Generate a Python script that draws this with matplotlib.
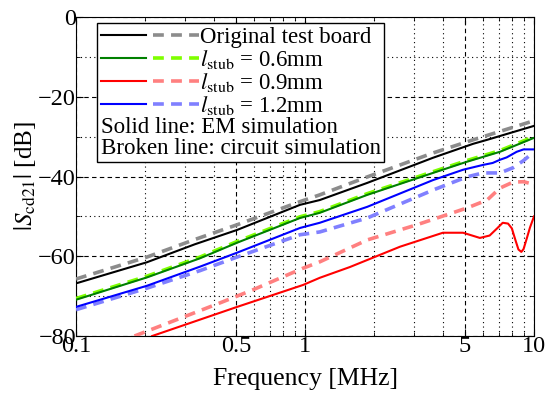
import numpy as np
import matplotlib
matplotlib.use("Agg")
import matplotlib.pyplot as plt
from matplotlib.ticker import FixedLocator, NullFormatter
from matplotlib.legend_handler import HandlerTuple

plt.rcParams['font.family'] = ['Liberation Serif', 'DejaVu Serif']
plt.rcParams['mathtext.fontset'] = 'stix'

# Frequencies [MHz] and |Scd21| [dB]
f_orig = [0.1, 0.204, 0.33, 0.505, 0.951, 1.16, 1.87, 3.62, 5.42, 6.24, 10]
em_orig = [-66.8, -61.5, -57.0, -53.4, -47.1, -45.9, -41.6, -35.3, -31.8, -30.8, -27.3]
ckt_orig = [-65.7, -60.2, -55.8, -52.1, -46.3, -44.6, -40.1, -34.1, -30.8, -29.7, -26.0]

f_06 = [0.1, 0.204, 0.348, 0.505, 0.951, 1.16, 1.87, 3.62, 5.09, 7.1, 10]
em_06 = [-70.9, -65.3, -60.5, -56.6, -50.4, -49.1, -44.6, -39.1, -36.3, -33.8, -30.3]
ckt_06 = [-70.6, -65.0, -60.2, -56.3, -50.1, -48.8, -44.3, -38.8, -36.0, -33.5, -30.0]

f_09em = [0.215, 0.505, 0.98, 1.16, 1.57, 2.6, 4.0, 4.9, 5.8, 6.4, 6.9, 7.3, 7.7, 8.0, 8.3, 8.55, 8.8, 9.0,
          9.3, 9.6, 10]
em_09 = [-80.0, -72.7, -67.2, -65.4, -62.7, -57.6, -54.1, -54.1, -55.4, -54.8, -53.0, -51.6, -51.8, -53.0,
         -56.0, -58.3, -58.9, -58.2, -55.5, -52.8, -50.0]
f_09ckt = [0.18, 0.425, 0.593, 0.97, 1.16, 1.87, 3.08, 5.09, 6.24, 7.1, 8.1, 9.0, 10]
ckt_09 = [-80.0, -71.7, -68.4, -63.1, -61.4, -55.9, -52.1, -47.9, -45.9, -42.9, -41.4, -41.3, -42.0]

f_12em = [0.1, 0.204, 0.348, 0.505, 0.951, 1.16, 1.87, 3.62, 4.9, 5.98, 6.6, 7.1, 7.6, 8.4, 9.0, 10]
em_12 = [-72.7, -67.4, -62.6, -59.1, -52.9, -51.6, -47.6, -40.9, -38.3, -37.1, -36.6, -35.8, -35.2, -33.8,
         -33.2, -33.2]
f_12ckt = [0.1, 0.204, 0.348, 0.505, 0.951, 1.16, 1.87, 3.62, 5.09, 5.98, 7.1, 8.1, 9.0, 10]
ckt_12 = [-73.4, -68.0, -63.6, -60.2, -54.6, -53.9, -50.4, -43.4, -40.1, -39.1, -39.1, -37.8, -36.0, -33.8]

fig = plt.figure(figsize=(5.48, 4.07), dpi=100)
ax = fig.add_axes([0.1387, 0.1744, 0.8358, 0.7838])

lw_s, lw_d = 1.5, 2.6
h_orig_s, = ax.plot(f_orig, em_orig, '-', color='black', lw=lw_s, zorder=4)
h_orig_d, = ax.plot(f_orig, ckt_orig, '--', color='#8c8c8c', lw=lw_d, dashes=(3, 2), zorder=3)
h06_d, = ax.plot(f_06, ckt_06, '--', color='#7fff00', lw=lw_d, dashes=(3, 2), zorder=3)
h06_s, = ax.plot(f_06, em_06, '-', color='#008000', lw=lw_s, zorder=4)
h09_s, = ax.plot(f_09em, em_09, '-', color='red', lw=lw_s, zorder=4)
h09_d, = ax.plot(f_09ckt, ckt_09, '--', color='#ff8080', lw=lw_d, dashes=(3, 2), zorder=3)
h12_s, = ax.plot(f_12em, em_12, '-', color='blue', lw=lw_s, zorder=4)
h12_d, = ax.plot(f_12ckt, ckt_12, '--', color='#8080ff', lw=lw_d, dashes=(3, 2), zorder=3)

ax.set_xscale('log')
ax.set_xlim(0.1, 10)
ax.set_ylim(-80, 0)
ax.xaxis.set_major_locator(FixedLocator([0.1, 0.5, 1, 5, 10]))
ax.xaxis.set_minor_locator(FixedLocator([0.2, 0.3, 0.4, 0.6, 0.7, 0.8, 0.9, 2, 3, 4, 6, 7, 8, 9]))
ax.xaxis.set_minor_formatter(NullFormatter())
ax.set_xticklabels(['0.1', '0.5', '1', '5', '10'])
ax.yaxis.set_major_locator(FixedLocator([-80, -60, -40, -20, 0]))
ax.yaxis.set_minor_locator(FixedLocator([-70, -50, -30, -10]))
ax.grid(which='major', color='black', linestyle=(0, (4, 3)), lw=0.8)
ax.grid(which='minor', color='black', linestyle=(0, (1, 3)), lw=0.8)
ax.tick_params(which='both', direction='in', top=True, right=True, labelsize=17.5, pad=0)
ax.tick_params(which='major', length=5)
ax.tick_params(which='minor', length=3)

ax.set_xlabel('Frequency [MHz]', fontsize=18.5, labelpad=8)
ax.set_ylabel(r'$|S_{\rm cd21}|$ [dB]', fontsize=18, labelpad=0)

blank, = ax.plot([], [], color='none')
handles = [(h_orig_s, h_orig_d), (h06_s, h06_d), (h09_s, h09_d), (h12_s, h12_d), blank, blank]
labels = ['Original test board', r'$l_{\rm stub}$ = 0.6mm', r'$l_{\rm stub}$ = 0.9mm',
          r'$l_{\rm stub}$ = 1.2mm', 'Solid line: EM simulation', 'Broken line: circuit simulation']
leg = ax.legend(handles, labels, handler_map={tuple: HandlerTuple(ndivide=None, pad=0.3)},
                loc='upper left', bbox_to_anchor=(0.046, 0.981), fontsize=16.5, handlelength=4.3,
                handletextpad=0.05, labelspacing=0.0, borderpad=0.15, borderaxespad=0,
                fancybox=False, framealpha=1, edgecolor='black')
leg.get_frame().set_linewidth(1.0)
# the two explanation rows carry no handle: drop their handle box width
for col in leg._legend_handle_box.get_children():
    for row in col.get_children()[4:]:
        row.get_children()[0].width = 0
        row.sep = 0

fig.savefig('out.png', dpi=100)
